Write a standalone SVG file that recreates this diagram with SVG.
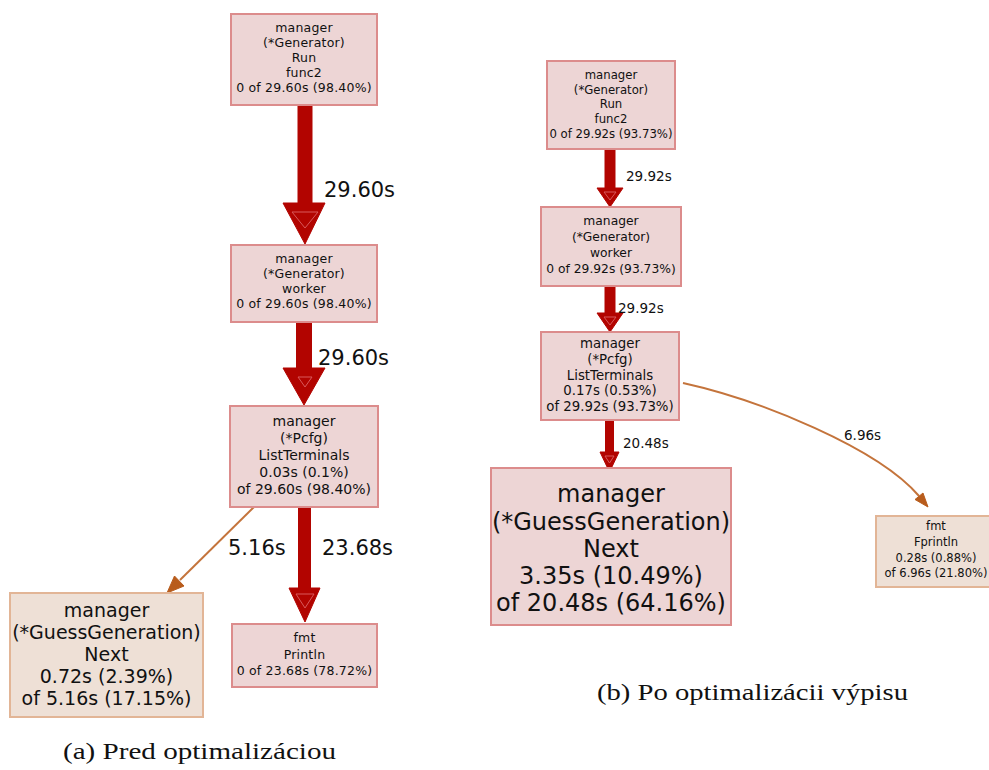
<svg xmlns="http://www.w3.org/2000/svg" width="989" height="770" viewBox="0 0 989 770">
  <style>
    .hot rect { fill: #edd5d5; stroke: #dc8c8c; stroke-width: 2; }
    .warm rect { fill: #eee0d6; stroke: #e2b596; stroke-width: 2; }
    text { font-family: "DejaVu Sans", "Liberation Sans", sans-serif; fill: #111; text-anchor: middle; }
    .lbl { text-anchor: start; }
    .cap { font-family: "Liberation Serif", "DejaVu Serif", serif; font-size: 23px; text-anchor: start; }
    .shaft { stroke: #b20400; fill: none; }
    .head { fill: #b20400; stroke: #b20400; stroke-width: 1; stroke-linejoin: miter; }
    .seam { fill: none; stroke: #d8585a; stroke-width: 1; }
    .thin { stroke: #c4743c; stroke-width: 2; fill: none; }
    .thinhead { fill: #b85c1c; stroke: #b85c1c; stroke-width: 1; }
  </style>

  <!-- call edges -->
  <g id="edges">
    <!-- left graph -->
    <line class="shaft" x1="305" y1="105" x2="305" y2="206" stroke-width="15"/>
    <polygon class="head" points="283,203 325,203 305,244"/>
    <polygon class="seam" points="292,212 318,212 305,228"/>
    <text class="lbl" x="324" y="197" font-size="21">29.60s</text>

    <line class="shaft" x1="304" y1="322" x2="304" y2="371" stroke-width="16"/>
    <polygon class="head" points="283,368 325,368 304,405"/>
    <polygon class="seam" points="298,377 312,377 305,387"/>
    <text class="lbl" x="318" y="365" font-size="21">29.60s</text>

    <line class="shaft" x1="304.5" y1="507" x2="304.5" y2="591" stroke-width="13"/>
    <polygon class="head" points="289,588 320,588 305,622"/>
    <polygon class="seam" points="296,594 314,594 305,608"/>
    <text class="lbl" x="322" y="555" font-size="21">23.68s</text>

    <line class="thin" x1="255" y1="506" x2="180" y2="580"/>
    <polygon class="thinhead" points="184,586 174.5,576 167,593"/>
    <text class="lbl" x="228" y="555" font-size="21">5.16s</text>

    <!-- right graph -->
    <line class="shaft" x1="610" y1="149" x2="610" y2="190" stroke-width="11"/>
    <polygon class="head" points="597,188 623,188 610,207"/>
    <polygon class="seam" points="604,192 616,192 610,200"/>
    <text class="lbl" x="626" y="181" font-size="13.5">29.92s</text>

    <line class="shaft" x1="610" y1="286" x2="610" y2="315" stroke-width="11"/>
    <polygon class="head" points="597,313 623,313 610,332"/>
    <polygon class="seam" points="604,317 616,317 610,325"/>
    <text class="lbl" x="618" y="313" font-size="13.5">29.92s</text>

    <line class="shaft" x1="609.5" y1="420" x2="609.5" y2="454" stroke-width="9"/>
    <polygon class="head" points="600,452 619,452 609.5,472"/>
    <polygon class="seam" points="605,456 614,456 609.5,463"/>
    <text class="lbl" x="623" y="448" font-size="13.5">20.48s</text>

    <path class="thin" d="M683,383 C760,400 878,448 919,496"/>
    <polygon class="thinhead" points="923,493 915,499.5 928,507"/>
    <text class="lbl" x="844" y="440" font-size="13.5">6.96s</text>
  </g>

  <!-- left graph: before optimisation -->
  <g id="l_run" class="hot">
    <rect x="231" y="14" width="146" height="91"/>
    <text font-size="12.5" letter-spacing="0.2"><tspan x="304" y="32">manager</tspan><tspan x="304" y="47">(*Generator)</tspan><tspan x="304" y="62">Run</tspan><tspan x="304" y="77">func2</tspan><tspan x="304" y="92">0 of 29.60s (98.40%)</tspan></text>
  </g>
  <g id="l_worker" class="hot">
    <rect x="231" y="245" width="146" height="77"/>
    <text font-size="12.5" letter-spacing="0.2"><tspan x="304" y="263">manager</tspan><tspan x="304" y="278">(*Generator)</tspan><tspan x="304" y="293">worker</tspan><tspan x="304" y="308">0 of 29.60s (98.40%)</tspan></text>
  </g>
  <g id="l_listterminals" class="hot">
    <rect x="230" y="406" width="148" height="101"/>
    <text font-size="14"><tspan x="304" y="426">manager</tspan><tspan x="304" y="443">(*Pcfg)</tspan><tspan x="304" y="460">ListTerminals</tspan><tspan x="304" y="477">0.03s (0.1%)</tspan><tspan x="304" y="494">of 29.60s (98.40%)</tspan></text>
  </g>
  <g id="l_next" class="warm">
    <rect x="10" y="593" width="193" height="124"/>
    <text font-size="19"><tspan x="106.5" y="617">manager</tspan><tspan x="106.5" y="639">(*GuessGeneration)</tspan><tspan x="106.5" y="661">Next</tspan><tspan x="106.5" y="683">0.72s (2.39%)</tspan><tspan x="106.5" y="705">of 5.16s (17.15%)</tspan></text>
  </g>
  <g id="l_println" class="hot">
    <rect x="232" y="624" width="145" height="63"/>
    <text font-size="12.5" letter-spacing="0.2"><tspan x="304.5" y="642">fmt</tspan><tspan x="304.5" y="658.5">Println</tspan><tspan x="304.5" y="675">0 of 23.68s (78.72%)</tspan></text>
  </g>

  <!-- right graph: after optimising the output -->
  <g id="r_run" class="hot">
    <rect x="547" y="61" width="128" height="88"/>
    <text font-size="11.7"><tspan x="611" y="79">manager</tspan><tspan x="611" y="93.5">(*Generator)</tspan><tspan x="611" y="108">Run</tspan><tspan x="611" y="122.5">func2</tspan><tspan x="611" y="137.5">0 of 29.92s (93.73%)</tspan></text>
  </g>
  <g id="r_worker" class="hot">
    <rect x="541" y="207" width="140" height="79"/>
    <text font-size="12.3"><tspan x="611" y="225">manager</tspan><tspan x="611" y="240.5">(*Generator)</tspan><tspan x="611" y="256.5">worker</tspan><tspan x="611" y="272.5">0 of 29.92s (93.73%)</tspan></text>
  </g>
  <g id="r_listterminals" class="hot">
    <rect x="541" y="332" width="138" height="88"/>
    <text font-size="13.3"><tspan x="610" y="348">manager</tspan><tspan x="610" y="364">(*Pcfg)</tspan><tspan x="610" y="379.5">ListTerminals</tspan><tspan x="610" y="395">0.17s (0.53%)</tspan><tspan x="610" y="411">of 29.92s (93.73%)</tspan></text>
  </g>
  <g id="r_next" class="hot">
    <rect x="491" y="468" width="240" height="157"/>
    <text font-size="24"><tspan x="611" y="502">manager</tspan><tspan x="611" y="529.5">(*GuessGeneration)</tspan><tspan x="611" y="557">Next</tspan><tspan x="611" y="584">3.35s (10.49%)</tspan><tspan x="611" y="611">of 20.48s (64.16%)</tspan></text>
  </g>
  <g id="r_fprintln" class="warm">
    <rect x="876" y="516" width="130" height="71"/>
    <text font-size="11.5"><tspan x="936" y="530">fmt</tspan><tspan x="936" y="546">Fprintln</tspan><tspan x="936" y="561.5">0.28s (0.88%)</tspan><tspan x="936" y="577">of 6.96s (21.80%)</tspan></text>
  </g>

  <!-- sub-figure captions -->
  <text class="cap" x="63" y="759" textLength="273" lengthAdjust="spacingAndGlyphs">(a) Pred optimalizáciou</text>
  <text class="cap" x="597" y="700" textLength="311" lengthAdjust="spacingAndGlyphs">(b) Po optimalizácii výpisu</text>
</svg>
